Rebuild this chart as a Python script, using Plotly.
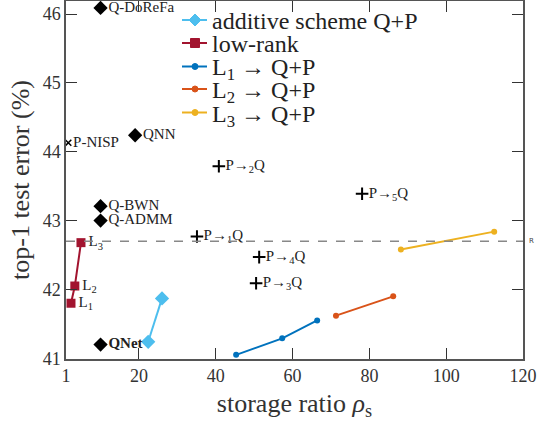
import plotly.graph_objects as go

# Data
series_names = ["additive scheme Q+P", "low-rank", "L<sub>1</sub> → Q+P", "L<sub>2</sub> → Q+P", "L<sub>3</sub> → Q+P"]
series_colors = ["#4DBEEE", "#A2142F", "#0072BD", "#D95319", "#EDB120"]
add_x = [22.4, 26.0]
add_y = [41.24, 41.87]
lr_x = [2.3, 3.3, 4.9]
lr_y = [41.80, 42.05, 42.68]
lr_labels = ["L<sub>1</sub>", "L<sub>2</sub>", "L<sub>3</sub>"]
l1_x = [45.3, 57.3, 66.4]
l1_y = [41.05, 41.29, 41.55]
l2_x = [71.3, 86.2]
l2_y = [41.62, 41.90]
l3_x = [88.2, 112.5]
l3_y = [42.58, 42.84]
q_x = [10, 10, 10, 10, 19]
q_y = [46.09, 43.21, 43.0, 41.2, 44.24]
q_labels = ["Q-DoReFa", "Q-BWN", "Q-ADMM", "<b>QNet</b>", "QNN"]
pnisp_x = [1.6]
pnisp_y = [44.13]
pnisp_labels = ["P-NISP"]
pq_x = [35.1, 40.8, 50.5, 51.3, 78.1]
pq_y = [42.77, 43.79, 42.09, 42.47, 43.39]
pq_labels = ["P→<sub>1</sub>Q", "P→<sub>2</sub>Q", "P→<sub>3</sub>Q", "P→<sub>4</sub>Q", "P→<sub>5</sub>Q"]
ref_y = 42.7
x_ticks = [1, 20, 40, 60, 80, 100, 120]
y_ticks = [41, 42, 43, 44, 45, 46]

FONT = "serif"
W, H = 542, 423
ML, MR, MT, MB = 66, 19, 1, 64
PW, PH = W - ML - MR, H - MT - MB


def px_x(p):
    return (p - ML) / PW


def px_y(p):
    return (H - MB - p) / PH


fig = go.Figure()
series = [(add_x, add_y, "diamond", 11), (lr_x, lr_y, "square", 9),
          (l1_x, l1_y, "circle", 6), (l2_x, l2_y, "circle", 6), (l3_x, l3_y, "circle", 6)]
for (xs, ys, sym, sz), name, col in zip(series, series_names, series_colors):
    fig.add_trace(go.Scatter(x=xs, y=ys, mode="lines+markers", name=name, showlegend=False,
                             line=dict(color=col, width=2),
                             marker=dict(symbol=sym, size=sz, color=col)))

fig.add_trace(go.Scatter(x=lr_x, y=lr_y, mode="text", showlegend=False,
                         text=["  " + t for t in lr_labels], textposition="middle right",
                         textfont=dict(family=FONT, size=15, color="#222")))
fig.add_trace(go.Scatter(x=q_x, y=q_y, mode="markers+text", showlegend=False,
                         marker=dict(symbol="diamond", size=11, color="black"),
                         text=q_labels, textposition="middle right",
                         textfont=dict(family=FONT, size=15, color="#222")))
fig.add_trace(go.Scatter(x=pnisp_x, y=pnisp_y, mode="markers+text", showlegend=False,
                         marker=dict(symbol="x-thin", size=6, color="black", line=dict(width=1.5, color="black")),
                         text=pnisp_labels, textposition="middle right",
                         textfont=dict(family=FONT, size=15, color="#222")))
fig.add_trace(go.Scatter(x=pq_x, y=pq_y, mode="markers+text", showlegend=False,
                         marker=dict(symbol="cross-thin", size=9, color="black", line=dict(width=2, color="black")),
                         text=pq_labels, textposition="middle right",
                         textfont=dict(family=FONT, size=15, color="#222")))

fig.add_hline(y=ref_y, line=dict(color="#888", width=1.5, dash="dash"))
fig.add_annotation(x=1.0, xref="paper", y=ref_y, yref="y", text="R", showarrow=False,
                   xanchor="left", xshift=4, font=dict(family="DejaVu Sans", size=7, color="#444"))

# Manual legend (layout only)
leg_rows = [20, 43, 66.5, 89, 112.5]
leg_x0, leg_x1, leg_mx, leg_tx = 182, 207, 195, 210
marker_paths = {
    "diamond": "M0,6 L6,0 L0,-6 L-6,0 Z",
    "square": "M-4.5,-4.5 L4.5,-4.5 L4.5,4.5 L-4.5,4.5 Z",
}
for ry, (xs, ys, sym, sz), name, col in zip(leg_rows, series, series_names, series_colors):
    yy = px_y(ry)
    fig.add_shape(type="line", xref="paper", yref="paper", x0=px_x(leg_x0), x1=px_x(leg_x1),
                  y0=yy, y1=yy, line=dict(color=col, width=2))
    if sym == "circle":
        fig.add_shape(type="circle", xref="paper", yref="paper", xsizemode="pixel", ysizemode="pixel",
                      xanchor=px_x(leg_mx), yanchor=yy, x0=-3, x1=3, y0=-3, y1=3,
                      fillcolor=col, line=dict(color=col, width=1))
    else:
        fig.add_shape(type="path", xref="paper", yref="paper", xsizemode="pixel", ysizemode="pixel",
                      xanchor=px_x(leg_mx), yanchor=yy, path=marker_paths[sym],
                      fillcolor=col, line=dict(color=col, width=1))
    fig.add_annotation(x=px_x(leg_tx), y=yy, xref="paper", yref="paper", xanchor="left", yanchor="middle",
                       yshift=(-3 if "<sub>" in name else -1),
                       showarrow=False, text=name, font=dict(family=FONT, size=24, color="#222"))

axis_common = dict(showgrid=False, zeroline=False, showline=True, linecolor="#555", linewidth=1.5,
                   mirror="ticks", ticks="inside", ticklen=11, tickcolor="#333", tickwidth=1,
                   automargin=False,
                   tickfont=dict(family=FONT, size=18, color="#333"))
fig.update_xaxes(range=[1, 120], tickvals=x_ticks,
                 title=dict(text="storage ratio <i>ρ</i><sub>s</sub>", font=dict(family=FONT, size=26, color="#333"), standoff=8),
                 **axis_common)
fig.update_yaxes(range=[40.99, 46.19], tickvals=y_ticks,
                 title=dict(text="top-1 test error (%)", font=dict(family=FONT, size=26, color="#333"), standoff=6),
                 **axis_common)

fig.update_layout(width=W, height=H, margin=dict(l=ML, r=MR, t=MT, b=MB),
                  plot_bgcolor="white", paper_bgcolor="white",
                  font=dict(family=FONT), showlegend=False)
fig.write_html("out.html", config={"displayModeBar": False},
               post_script="document.body.style.margin='0';")
